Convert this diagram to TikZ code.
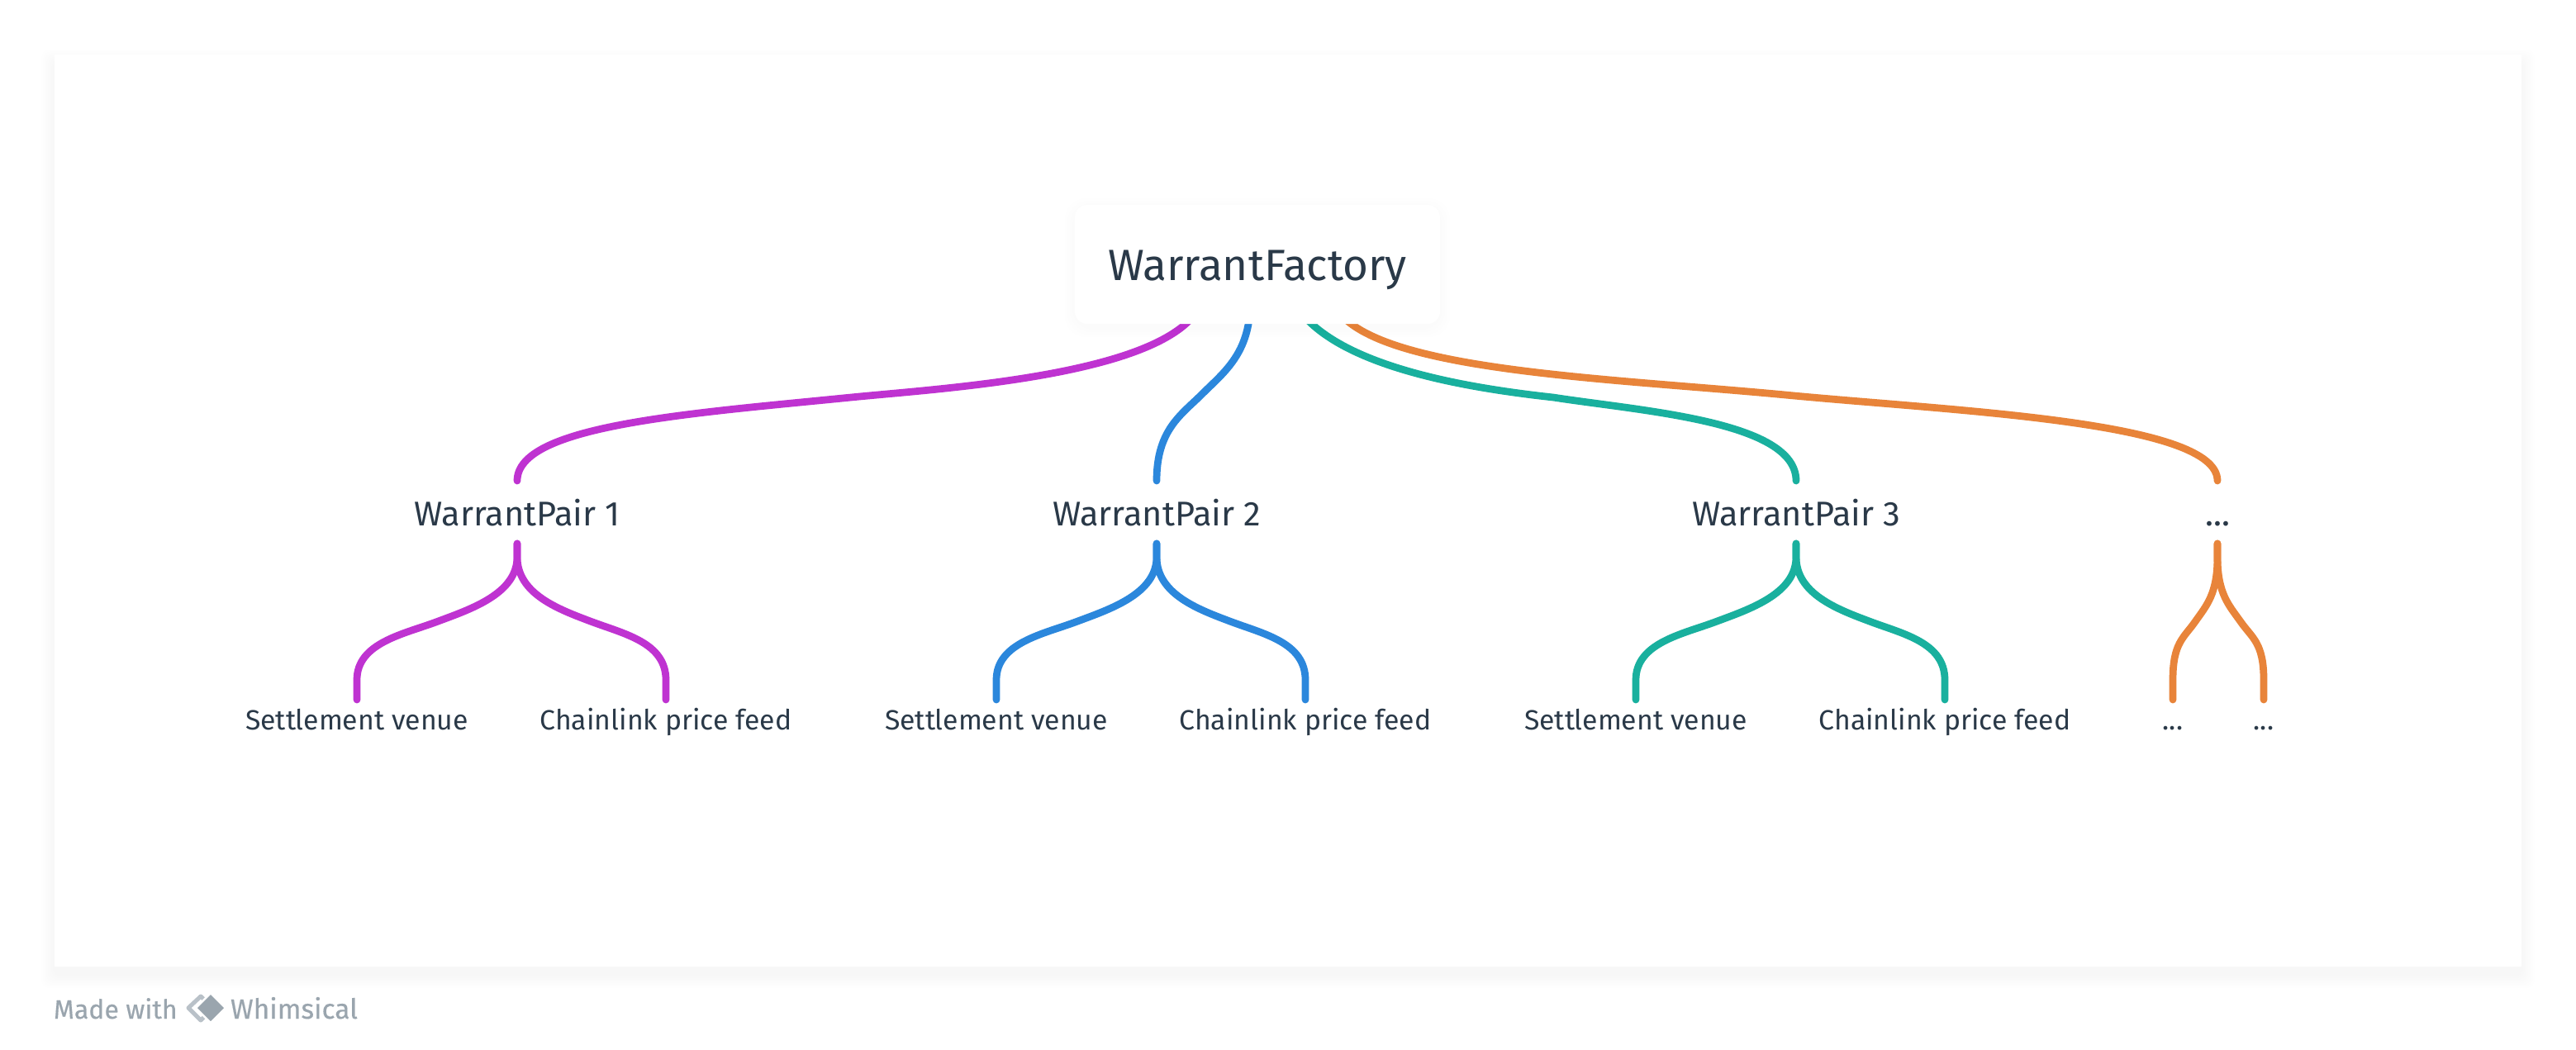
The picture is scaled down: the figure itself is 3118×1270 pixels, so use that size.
\documentclass[tikz,border=0pt]{standalone}
\usepackage{fontspec}
\setmainfont{Fira Sans}
\newfontfamily\brandfont[FakeBold=0.35]{Fira Sans}
\usetikzlibrary{calc}
\definecolor{cpurple}{HTML}{BF33D1}
\definecolor{cblue}{HTML}{2B87DC}
\definecolor{cteal}{HTML}{19B09E}
\definecolor{corange}{HTML}{E8843A}
\definecolor{cink}{HTML}{2A3948}
\definecolor{cgrey}{HTML}{9AA5AE}
\definecolor{cgreylight}{HTML}{B9C1C8}
\tikzset{
  link/.style={line width=1.75pt,line cap=round},
  topbox/.style={fill=white,rounded corners=3pt,inner sep=0pt,minimum width=88.4pt,minimum height=28.8pt,text height=7.6pt,text depth=0pt,text=cink,font=\fontsize{10.6}{12}\selectfont},
  pairbox/.style={inner sep=0pt,minimum height=14.8pt,text height=6.4pt,text depth=0pt,text=cink,font=\fontsize{8.3}{10}\selectfont},
  leafbox/.style={inner sep=0pt,minimum height=9.2pt,text height=5pt,text depth=0pt,text=cink,font=\fontsize{6.75}{8}\selectfont},
  brand/.style={inner sep=0pt,text height=4.8pt,text depth=0pt,text=cgrey,anchor=west},
}
\newcommand{\forkleg}[5]{%
  \draw[link,#1] (#2.south) -- ++(0,16)
    .. controls +(0,45) and +(#4,-#5) .. ($(#2.south)!.5!(#3.north)$)
    .. controls +(-#4,#5) and +(0,-45) .. ($(#3.north)+(0,-24)$) -- (#3.north);}
\begin{document}
\begin{tikzpicture}[x=0.2pt,y=-0.2pt]
\useasboundingbox (0,0) rectangle (3118,1270);
\fill[white] (0,0) rectangle (3118,1270);
% panel shadow
\foreach \s in {16,14,12,10,8,6,4,2}
  \fill[black,opacity=0.003,rounded corners=2pt] (66-\s,66-\s+10) rectangle (3052+\s,1170+\s+10);
\fill[white] (66,66) rectangle (3052,1170);
% nodes
\coordinate (fc) at (1522,320);
\node[pairbox] (p1) at (626,620) {WarrantPair 1};
\node[pairbox] (p2) at (1400,620) {WarrantPair 2};
\node[pairbox] (p3) at (2174,620) {WarrantPair 3};
\node[pairbox] (p4) at (2684,620) {...};
\node[leafbox] (s1) at (432,871) {Settlement venue};
\node[leafbox] (c1) at (806,871) {Chainlink price feed};
\node[leafbox] (s2) at (1206,871) {Settlement venue};
\node[leafbox] (c2) at (1580,871) {Chainlink price feed};
\node[leafbox] (s3) at (1980,871) {Settlement venue};
\node[leafbox] (c3) at (2354,871) {Chainlink price feed};
\node[leafbox] (d1) at (2630,871) {...};
\node[leafbox] (d2) at (2740,871) {...};
% top connectors (start behind the box)
\coordinate (fa) at (1450,375);
\coordinate (fb) at (1513,375);
\coordinate (fcc) at (1570,372);
\coordinate (fd) at (1625,383);
\draw[link,cpurple] (fa) .. controls (1400,455) and (1140,470) .. (1030,481) .. controls (830,501) and (626,515) .. (p1.north);
\draw[link,cblue] (fb) .. controls (1510,430) and (1480,452) .. (1455,477) .. controls (1430,502) and (1400,520) .. (p2.north);
\draw[link,cteal] (fcc) .. controls (1620,445) and (1780,470) .. (1880,481) .. controls (1990,498) and (2174,510) .. (p3.north);
\draw[link,corange] (fd) .. controls (1690,450) and (1950,458) .. (2161,478) .. controls (2370,498) and (2684,510) .. (p4.north);
% white box on top
\foreach \s in {12,9,6,3}
  \fill[black,opacity=0.0025,rounded corners=5pt] (1301-\s,248-\s+4) rectangle (1743+\s,392+\s+4);
\node[topbox] (f) at (fc) {WarrantFactory};
% forks
\forkleg{cpurple}{p1}{s1}{40}{15}
\forkleg{cpurple}{p1}{c1}{-40}{15}
\forkleg{cblue}{p2}{s2}{40}{15}
\forkleg{cblue}{p2}{c2}{-40}{15}
\forkleg{cteal}{p3}{s3}{40}{15}
\forkleg{cteal}{p3}{c3}{-40}{15}
\forkleg{corange}{p4}{d1}{14}{20}
\forkleg{corange}{p4}{d2}{-14}{20}
% footer
\node[brand,font=\brandfont\fontsize{6.4}{8}\selectfont] (m) at (64,1221) {Made with};
\node[brand,font=\brandfont\fontsize{6.7}{8}\selectfont] (w) at (278,1221) {Whimsical};
\draw[cgreylight,line width=1pt,line join=round] (243,1206) -- (228,1220) -- (243,1235) -- (258,1220) -- cycle;
\fill[cgrey,draw=white,line width=0.5pt,line join=round] (255,1202) -- (273,1220) -- (255,1238) -- (237,1220) -- cycle;
\end{tikzpicture}
\end{document}
